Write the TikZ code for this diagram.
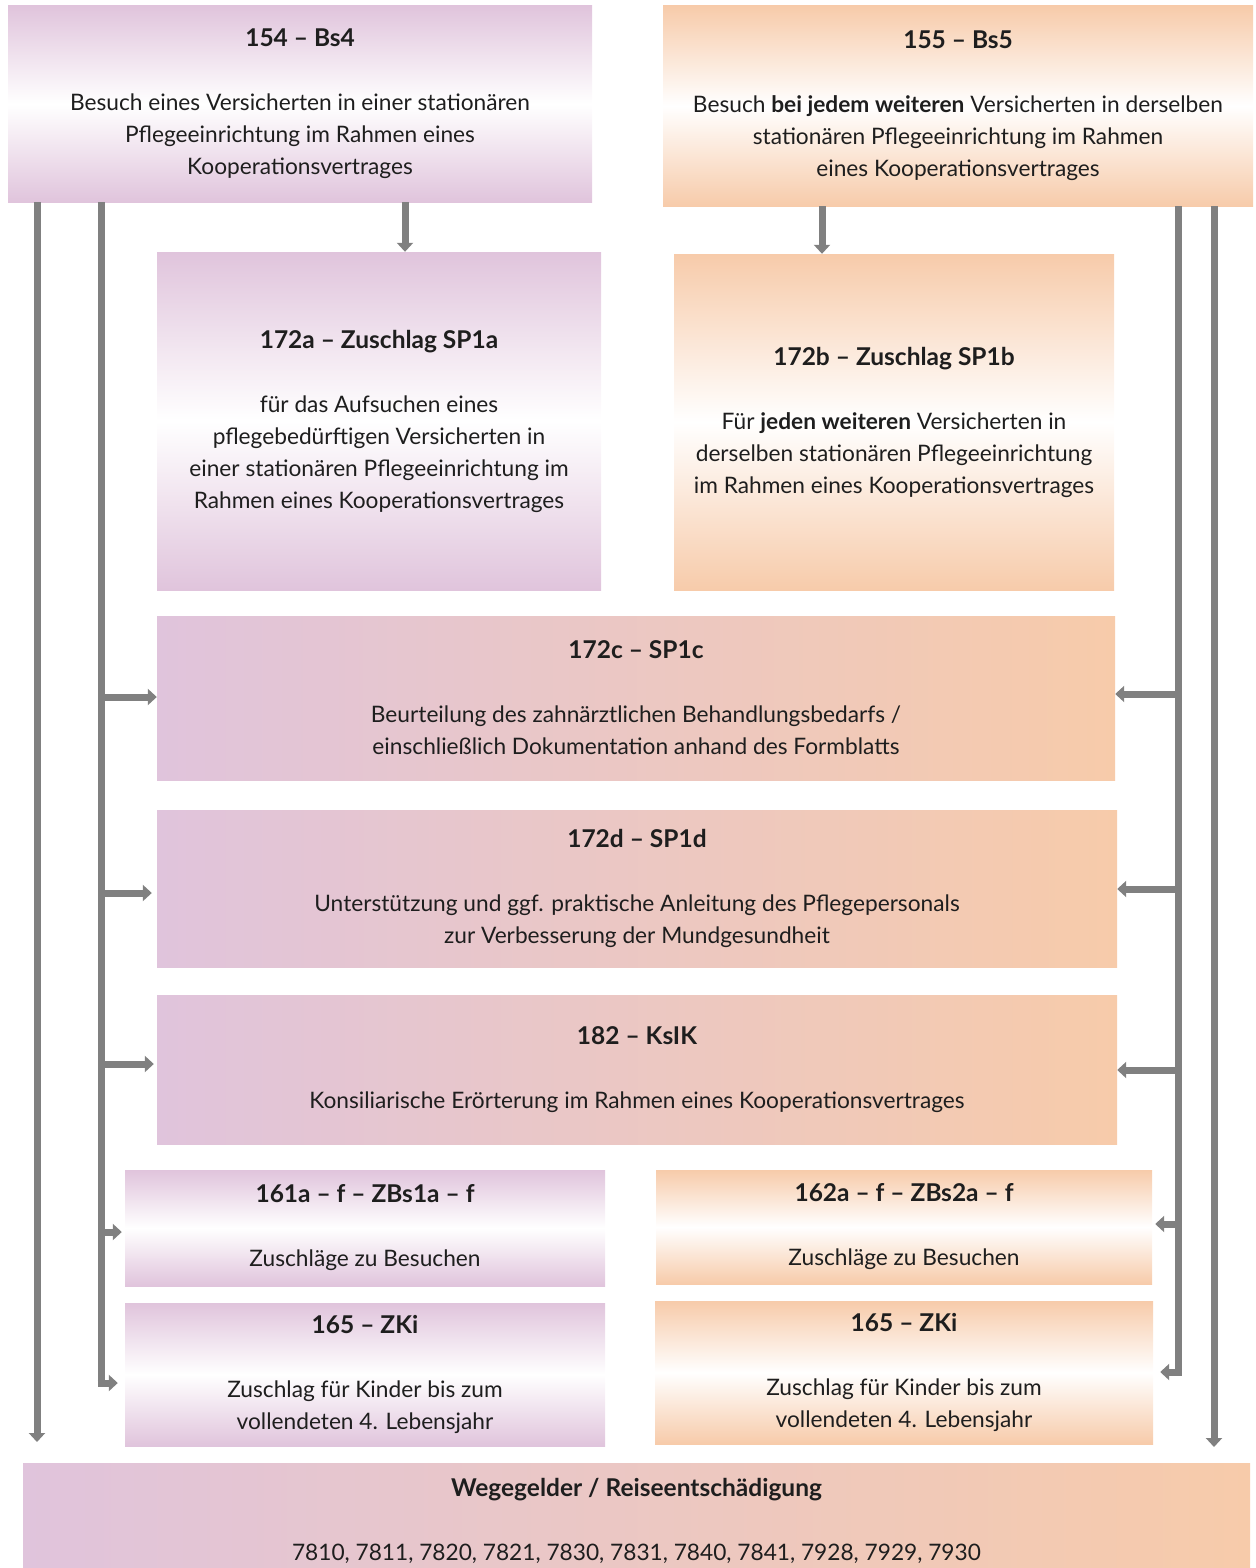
\documentclass[tikz,border=0pt]{standalone}
\usepackage{fontspec}
\setmainfont{Lato}
\usetikzlibrary{arrows.meta,calc}
\definecolor{pur}{RGB}{224,196,220}
\definecolor{ora}{RGB}{247,203,170}
\definecolor{gr}{RGB}{128,128,128}
\definecolor{txt}{RGB}{30,30,30}
\newcommand{\hd}[1]{{\fontsize{24.5}{32}\selectfont\bfseries #1}}
\begin{document}
\begin{tikzpicture}[x=1pt,y=-1pt,
 box/.style={inner sep=0pt, align=center, text=txt, font=\fontsize{22.7}{32}\selectfont},
 pv/.style={top color=pur, bottom color=pur, middle color=white},
 ov/.style={top color=ora, bottom color=ora, middle color=white},
 ph/.style={left color=pur, right color=ora},
 conn/.style={draw=gr, line width=7pt},
 arr/.style={conn, -{Triangle[width=16pt,length=9pt]}}]
\useasboundingbox (0,0) rectangle (1255,1568);

\node[box,pv,minimum width=584pt,minimum height=196pt] (b154) at (300,104)
 {\hd{154 – Bs4}\\[32pt]Besuch eines Versicherten in einer stationären\\Pflegeeinrichtung im Rahmen eines\\Kooperationsvertrages};
\node[box,ov,minimum width=590pt,minimum height=200pt] (b155) at (958,106)
 {\hd{155 – Bs5}\\[32pt]Besuch \textbf{bei jedem weiteren} Versicherten in derselben\\stationären Pflegeeinrichtung im Rahmen\\eines Kooperationsvertrages};
\node[box,pv,minimum width=444pt,minimum height=338pt] (b172a) at (379,421)
 {\hd{172a – Zuschlag SP1a}\\[32pt]für das Aufsuchen eines\\pflegebedürftigen Versicherten in\\einer stationären Pflegeeinrichtung im\\Rahmen eines Kooperationsvertrages};
\node[box,ov,minimum width=440pt,minimum height=336pt] (b172b) at (894,422)
 {\hd{172b – Zuschlag SP1b}\\[32pt]Für \textbf{jeden weiteren} Versicherten in\\derselben stationären Pflegeeinrichtung\\im Rahmen eines Kooperationsvertrages};
\node[box,ph,minimum width=958pt,minimum height=164pt] (b172c) at (636,698)
 {\hd{172c – SP1c}\\[32pt]Beurteilung des zahnärztlichen Behandlungsbedarfs /\\einschließlich Dokumentation anhand des Formblatts};
\node[box,ph,minimum width=960pt,minimum height=157pt] (b172d) at (637,888.5)
 {\hd{172d – SP1d}\\[32pt]Unterstützung und ggf. praktische Anleitung des Pflegepersonals\\zur Verbesserung der Mundgesundheit};
\node[box,ph,minimum width=960pt,minimum height=149pt] (b182) at (637,1069.5)
 {\hd{182 – KsIK}\\[32pt]Konsiliarische Erörterung im Rahmen eines Kooperationsvertrages};
\node[box,pv,minimum width=480pt,minimum height=116pt] (b161) at (365,1228)
 {\hd{161a – f – ZBs1a – f}\\[32pt]Zuschläge zu Besuchen};
\node[box,ov,minimum width=496pt,minimum height=114pt] (b162) at (904,1227)
 {\hd{162a – f – ZBs2a – f}\\[32pt]Zuschläge zu Besuchen};
\node[box,pv,minimum width=480pt,minimum height=143pt] (b165l) at (365,1374.5)
 {\hd{165 – ZKi}\\[32pt]Zuschlag für Kinder bis zum\\vollendeten 4. Lebensjahr};
\node[box,ov,minimum width=498pt,minimum height=143pt] (b165r) at (904,1372.5)
 {\hd{165 – ZKi}\\[32pt]Zuschlag für Kinder bis zum\\vollendeten 4. Lebensjahr};
\node[box,ph,minimum width=1227pt,minimum height=115pt] (bweg) at (636.5,1520.5)
 {\hd{Wegegelder / Reiseentschädigung}\\[32pt]7810, 7811, 7820, 7821, 7830, 7831, 7840, 7841, 7928, 7929, 7930};

% connectors
\coordinate (L1) at (37,1442);
\coordinate (L2) at (101,0);
\coordinate (A1) at (405,0);
\coordinate (A2) at (822,0);
\coordinate (R1) at (1178,0);
\coordinate (R2) at (1214,1447);

\draw[arr] (b154.south -| A1) -- (b172a.north -| A1);
\draw[arr] (b155.south -| A2) -- (b172b.north -| A2);
\draw[arr] (b154.south -| L1) -- (L1);
\draw[arr] (b155.south -| R2) -- (R2);

\draw[conn] (b154.south -| L2) -- ($(L2)+(0,1383)$);
\draw[arr] ($(L2)+(-3.5,1383)$) -- ($(b165l.west)+(-7,8.5)$);
\draw[arr] ($(L2)+(0,697)$) -- (b172c.west |- 0,697);
\draw[arr] ($(L2)+(0,893)$) -- ($(b172d.west |- 0,893)+(-5,0)$);
\draw[arr] ($(L2)+(0,1064)$) -- ($(b182.west |- 0,1064)+(-3,0)$);
\draw[arr] ($(L2)+(0,1232)$) -- ($(b161.west |- 0,1232)+(-3,0)$);

\draw[conn] (b155.south -| R1) -- ($(R1)+(0,1372)$);
\draw[arr] ($(R1)+(3.5,1372)$) -- ($(b165r.east)+(7,-0.5)$);
\draw[arr] ($(R1)+(0,694)$) -- (b172c.east |- 0,694);
\draw[arr] ($(R1)+(0,889)$) -- ($(b172d.east |- 0,889)+(0,0)$);
\draw[arr] ($(R1)+(0,1070)$) -- ($(b182.east |- 0,1070)+(0,0)$);
\draw[arr] ($(R1)+(0,1224)$) -- ($(b162.east |- 0,1224)+(3,0)$);
\end{tikzpicture}
\end{document}
